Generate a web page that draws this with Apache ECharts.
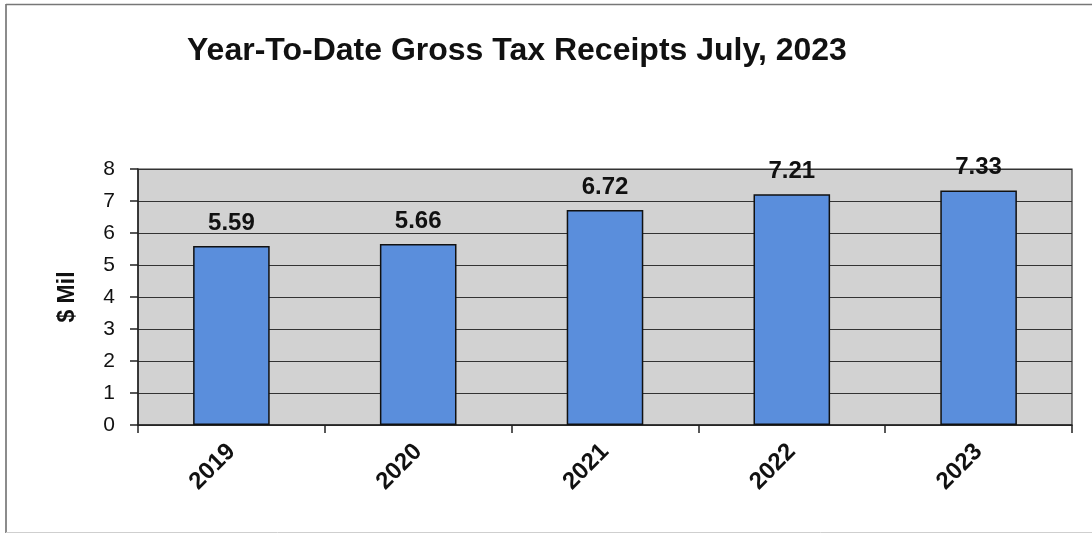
<!DOCTYPE html>
<html>
<head>
<meta charset="utf-8">
<script src="https://cdn.jsdelivr.net/npm/echarts@6/dist/echarts.min.js"></script>
<style>
  html, body { margin: 0; padding: 0; background: #ffffff; }
  #chart { width: 1092px; height: 537px; }
</style>
</head>
<body>
<div id="chart"></div>
<script>
// Year-to-date gross tax receipts, millions of dollars
const years = ['2019', '2020', '2021', '2022', '2023'];
const receipts = [5.59, 5.66, 6.72, 7.21, 7.33];
const yTicks = [0, 1, 2, 3, 4, 5, 6, 7, 8];

const chart = echarts.init(document.getElementById('chart'), null, { renderer: 'canvas' });
const font = '"Liberation Sans", Arial, sans-serif';

chart.setOption({
  animation: false,
  backgroundColor: '#ffffff',
  title: {
    text: 'Year-To-Date Gross Tax Receipts July, 2023',
    left: 182,
    top: 30,
    textStyle: { fontFamily: font, fontSize: 32, fontWeight: 'bold', color: '#111111' }
  },
  graphic: [
    // outer frame (left, top, bottom edges)
    { type: 'line', shape: { x1: 6, y1: 4, x2: 6, y2: 533 }, style: { stroke: '#666666', lineWidth: 1.5 } },
    { type: 'line', shape: { x1: 6, y1: 4.5, x2: 1092, y2: 4.5 }, style: { stroke: '#777777', lineWidth: 1.5 } },
    { type: 'line', shape: { x1: 6, y1: 532.5, x2: 1092, y2: 532.5 }, style: { stroke: '#cfcfcf', lineWidth: 1 } }
  ],
  grid: {
    left: 138,
    right: 20,
    top: 169,
    bottom: 112,
    show: true,
    backgroundColor: '#d2d2d2',
    borderColor: '#333333',
    borderWidth: 1.2
  },
  xAxis: {
    type: 'category',
    data: years,
    axisLine: { show: true, lineStyle: { color: '#222222', width: 1.5 } },
    axisTick: { show: true, alignWithLabel: false, length: 8, lineStyle: { color: '#222222', width: 1.5 } },
    axisLabel: {
      rotate: 45,
      margin: 23,
      fontFamily: font,
      fontSize: 24,
      fontWeight: 'bold',
      color: '#111111'
    }
  },
  yAxis: {
    type: 'value',
    min: yTicks[0],
    max: yTicks[yTicks.length - 1],
    interval: 1,
    name: '$ Mil',
    nameLocation: 'middle',
    nameGap: 59,
    nameRotate: 90,
    nameTextStyle: { fontFamily: font, fontSize: 23, fontWeight: 'bold', color: '#111111' },
    axisLine: { show: true, lineStyle: { color: '#222222', width: 1.5 } },
    axisTick: { show: true, length: 8, lineStyle: { color: '#222222', width: 1.5 } },
    axisLabel: { margin: 23, fontFamily: font, fontSize: 21, color: '#111111' },
    splitLine: { show: true, lineStyle: { color: '#333333', width: 1.2 } }
  },
  series: [{
    type: 'bar',
    data: receipts,
    barWidth: '41%',
    itemStyle: { color: '#5a8edc', borderColor: '#111111', borderWidth: 1.5 },
    label: {
      show: true,
      position: 'top',
      distance: 11,
      formatter: p => p.value.toFixed(2),
      fontFamily: font,
      fontSize: 24,
      fontWeight: 'bold',
      color: '#111111'
    }
  }]
});
</script>
</body>
</html>
